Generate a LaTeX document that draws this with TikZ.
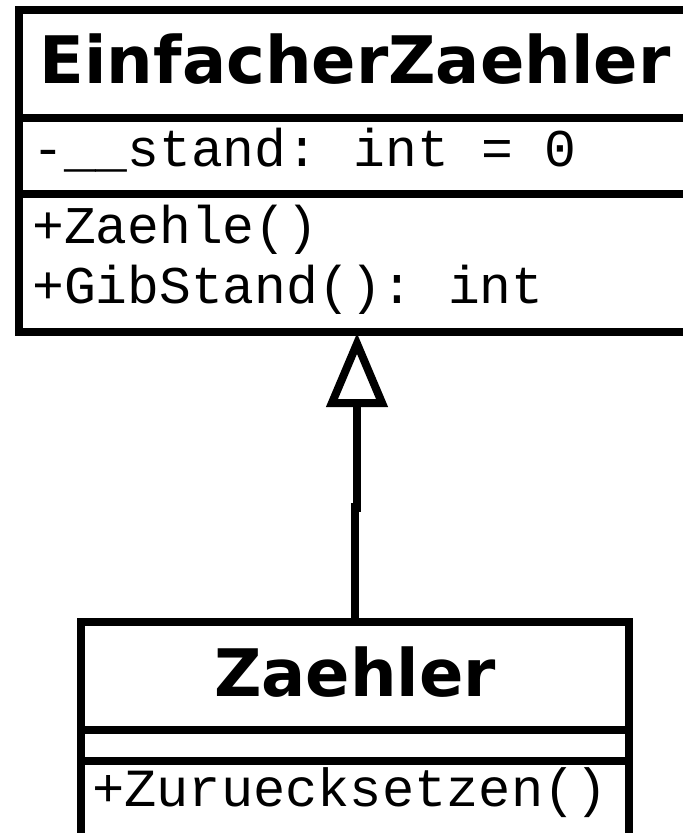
\documentclass[tikz,border=0pt]{standalone}
\usepackage{fontspec}
\usetikzlibrary{arrows.meta}
\newfontfamily\namefont{DejaVu Sans}[BoldFont={DejaVu Sans Bold}]
\newfontfamily\memfont{Liberation Mono}
\begin{document}
\begin{tikzpicture}[x=1pt,y=-1pt,
  umlbox/.style={draw=black,line width=8pt,fill=none,inner sep=0pt,outer sep=0pt,rectangle},
  sepline/.style={draw=black,line width=8pt},
  conn/.style={draw=black,line width=8pt},
  inh/.style={conn,-{Triangle[open,length=74pt,width=60pt,line width=8pt]}},
  classname/.style={inner sep=0pt,anchor=base,font=\namefont\bfseries\fontsize{65.5}{72}\selectfont},
  member/.style={inner sep=0pt,anchor=base west,font=\memfont\fontsize{53}{60}\selectfont}]
\useasboundingbox (0,0) rectangle (683,833);
\fill[white] (0,0) rectangle (683,833);
\clip (0,0) rectangle (683,833);
% boxes
\node[umlbox,minimum width=672pt,minimum height=322pt] (ez) at (355,171) {};
\node[umlbox,minimum width=548pt,minimum height=223pt] (zb) at (355,733.5) {};
% separators
\coordinate (ezs1) at (0,118);
\coordinate (ezs2) at (0,194);
\coordinate (zbs1) at (0,730);
\coordinate (zbs2) at (0,761);
\draw[sepline] (ez.west |- ezs1) -- (ez.east |- ezs1);
\draw[sepline] (ez.west |- ezs2) -- (ez.east |- ezs2);
\draw[sepline] (zb.west |- zbs1) -- (zb.east |- zbs1);
\draw[sepline] (zb.west |- zbs2) -- (zb.east |- zbs2);
% texts
\node[classname] (ezname) at (355,83) {EinfacherZaehler};
\node[member] (ezattr) at (32,166) {-\_\_stand:\hspace{-7pt} int = 0};
\node[member] (ezop1) at (32,243) {+Zaehle()};
\node[member] (ezop2) at (32,303) {+GibStand():\hspace{-8pt} int};
\node[classname] (zbname) at (355,696) {Zaehler};
\node[member,font=\memfont\fontsize{53.7}{60}\selectfont] (zbop1) at (92,806) {+Zuruecksetzen()};
% inheritance
\coordinate (j1) at (355,503);
\coordinate (j2) at (357,512);
\path (ez.south -| j2) ++(0,1) coordinate (tipend);
\draw[conn] (zb.north) -- (j1);
\draw[inh] (j2) -- (tipend);
\end{tikzpicture}
\end{document}
